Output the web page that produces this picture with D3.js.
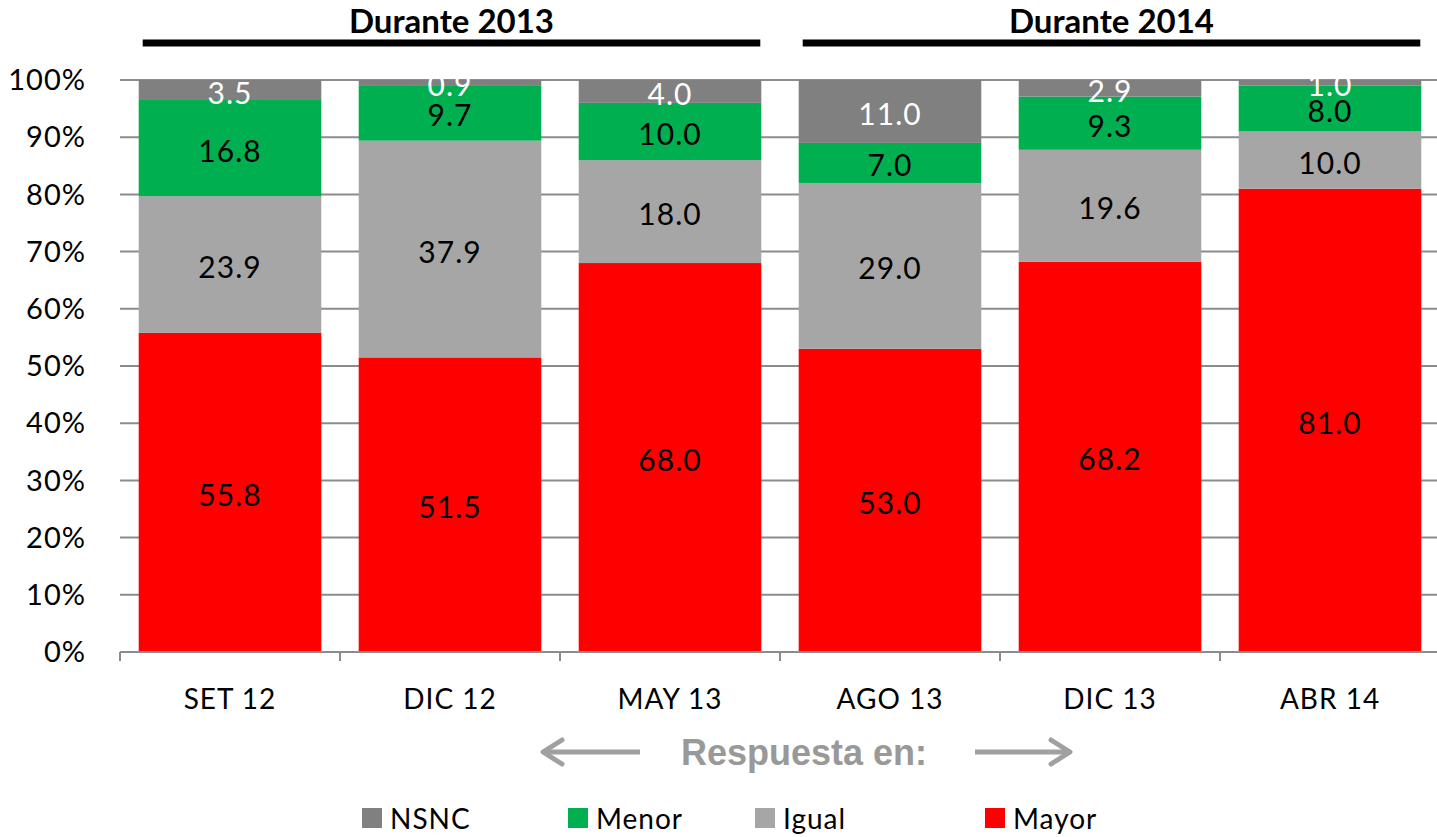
<!DOCTYPE html>
<html>
<head>
<meta charset="utf-8">
<script src="https://cdn.jsdelivr.net/npm/d3@7"></script>
<style>
  body { margin: 0; background: #fff; }
  svg { display: block; }
</style>
</head>
<body>
<script>
// data
var categories = ["SET 12", "DIC 12", "MAY 13", "AGO 13", "DIC 13", "ABR 14"];
var mayor = [55.8, 51.5, 68.0, 53.0, 68.2, 81.0];
var igual = [23.9, 37.9, 18.0, 29.0, 19.6, 10.0];
var menor = [16.8, 9.7, 10.0, 7.0, 9.3, 8.0];
var nsnc  = [3.5, 0.9, 4.0, 11.0, 2.9, 1.0];
var seriesNames = ["Mayor", "Igual", "Menor", "NSNC"];
var yTicks = [0, 10, 20, 30, 40, 50, 60, 70, 80, 90, 100];
var groups = [{label: "Durante 2013", from: 0, to: 2}, {label: "Durante 2014", from: 3, to: 5}];

var colors = {Mayor: "#ff0000", Igual: "#a6a6a6", Menor: "#00b050", NSNC: "#808080"};
var labelColor = {Mayor: "#000", Igual: "#000", Menor: "#000", NSNC: "#fff"};
var font = "Lato, 'Open Sans', sans-serif";

var W = 1437, H = 837;
var svg = d3.select("body").append("svg").attr("width", W).attr("height", H);

var rows = categories.map(function(c, i){
  return {cat: c, Mayor: mayor[i], Igual: igual[i], Menor: menor[i], NSNC: nsnc[i]};
});
var stacked = d3.stack().keys(seriesNames)(rows);

var x = d3.scaleBand().domain(categories).range([120, 1440]).paddingInner(0.17).paddingOuter(0.085);
var y = d3.scaleLinear().domain([0, 100]).range([652, 80]);

// gridlines
svg.append("g").selectAll("line").data(yTicks.slice(1)).enter().append("line")
  .attr("x1", 120).attr("x2", 1440)
  .attr("y1", function(d){ return y(d); }).attr("y2", function(d){ return y(d); })
  .attr("stroke", "#8c8c8c").attr("stroke-width", 2);

// y tick labels
svg.append("g").selectAll("text").data(yTicks).enter().append("text")
  .attr("x", 86).attr("y", function(d){ return y(d); })
  .attr("dy", "0.35em").attr("text-anchor", "end")
  .style("font-family", font).style("font-size", "29px").style("letter-spacing", "1px")
  .attr("fill", "#000")
  .text(function(d){ return d + "%"; });

// bars
var layer = svg.append("g").selectAll("g").data(stacked).enter().append("g")
  .attr("fill", function(s){ return colors[s.key]; });
layer.selectAll("rect").data(function(s){ return s; }).enter().append("rect")
  .attr("x", function(d){ return x(d.data.cat); })
  .attr("width", x.bandwidth())
  .attr("y", function(d){ return y(d[1]); })
  .attr("height", function(d){ return y(d[0]) - y(d[1]); });

// x axis line + ticks at band edges
var step = x.step(), x0 = 120;
svg.append("line").attr("x1", 120).attr("x2", 1440).attr("y1", 652).attr("y2", 652)
  .attr("stroke", "#8c8c8c").attr("stroke-width", 2);
svg.append("g").selectAll("line").data(d3.range(categories.length + 1)).enter().append("line")
  .attr("x1", function(i){ return x0 + i * step; }).attr("x2", function(i){ return x0 + i * step; })
  .attr("y1", 652).attr("y2", 661)
  .attr("stroke", "#8c8c8c").attr("stroke-width", 2);

// value labels
stacked.forEach(function(s){
  svg.append("g").selectAll("text").data(s).enter().append("text")
    .attr("x", function(d){ return x(d.data.cat) + x.bandwidth() / 2; })
    .attr("y", function(d){ return (y(d[0]) + y(d[1])) / 2 + 3; })
    .attr("dy", "0.35em").attr("text-anchor", "middle")
    .style("font-family", font).style("font-size", "30px").style("letter-spacing", "1px")
    .attr("fill", labelColor[s.key])
    .text(function(d){ return (d[1] - d[0]).toFixed(1); });
});

// category labels
svg.append("g").selectAll("text").data(categories).enter().append("text")
  .attr("x", function(d){ return x(d) + x.bandwidth() / 2; }).attr("y", 699)
  .attr("dy", "0.35em").attr("text-anchor", "middle")
  .style("font-family", font).style("font-size", "28px").style("letter-spacing", "1px")
  .attr("fill", "#000")
  .text(function(d){ return d; });

// group headers
groups.forEach(function(g){
  var a = x(categories[g.from]) + 4, b = x(categories[g.to]) + x.bandwidth() - 1;
  svg.append("line").attr("x1", a).attr("x2", b).attr("y1", 43).attr("y2", 43)
    .attr("stroke", "#000").attr("stroke-width", 7);
  svg.append("text").attr("x", (a + b) / 2).attr("y", 21).attr("dy", "0.35em")
    .attr("text-anchor", "middle")
    .style("font-family", font).style("font-size", "33px").style("font-weight", "bold")
    .attr("fill", "#000").text(g.label);
});

// "Respuesta en:" with arrows
var gray = "#a0a0a0";
svg.append("text").attr("x", 804).attr("y", 752).attr("dy", "0.35em").attr("text-anchor", "middle")
  .style("font-family", "'Liberation Sans', Arial, sans-serif").style("font-size", "36px")
  .style("font-weight", "bold").attr("fill", "#999").text("Respuesta en:");
function arrow(xa, xb, dir){
  svg.append("line").attr("x1", xa).attr("x2", xb).attr("y1", 752).attr("y2", 752)
    .attr("stroke", gray).attr("stroke-width", 5);
  var tip = dir < 0 ? xa : xb;
  svg.append("polyline")
    .attr("points", [[tip - dir * 19, 740], [tip, 752], [tip - dir * 19, 764]].join(" "))
    .attr("fill", "none").attr("stroke", gray).attr("stroke-width", 5)
    .attr("stroke-linecap", "round").attr("stroke-linejoin", "round");
}
arrow(543, 640, -1);
arrow(975, 1070, 1);

// legend
var legendItems = [["NSNC", 362], ["Menor", 568], ["Igual", 755], ["Mayor", 985]];
var lg = svg.append("g").selectAll("g").data(legendItems).enter().append("g")
  .attr("transform", function(d){ return "translate(" + d[1] + ",808)"; });
lg.append("rect").attr("width", 20).attr("height", 20).attr("fill", function(d){ return colors[d[0]]; });
lg.append("text").attr("x", 28).attr("y", 11).attr("dy", "0.35em")
  .style("font-family", font).style("font-size", "28px").style("letter-spacing", "1px")
  .attr("fill", "#000")
  .text(function(d){ return d[0]; });
</script>
</body>
</html>
